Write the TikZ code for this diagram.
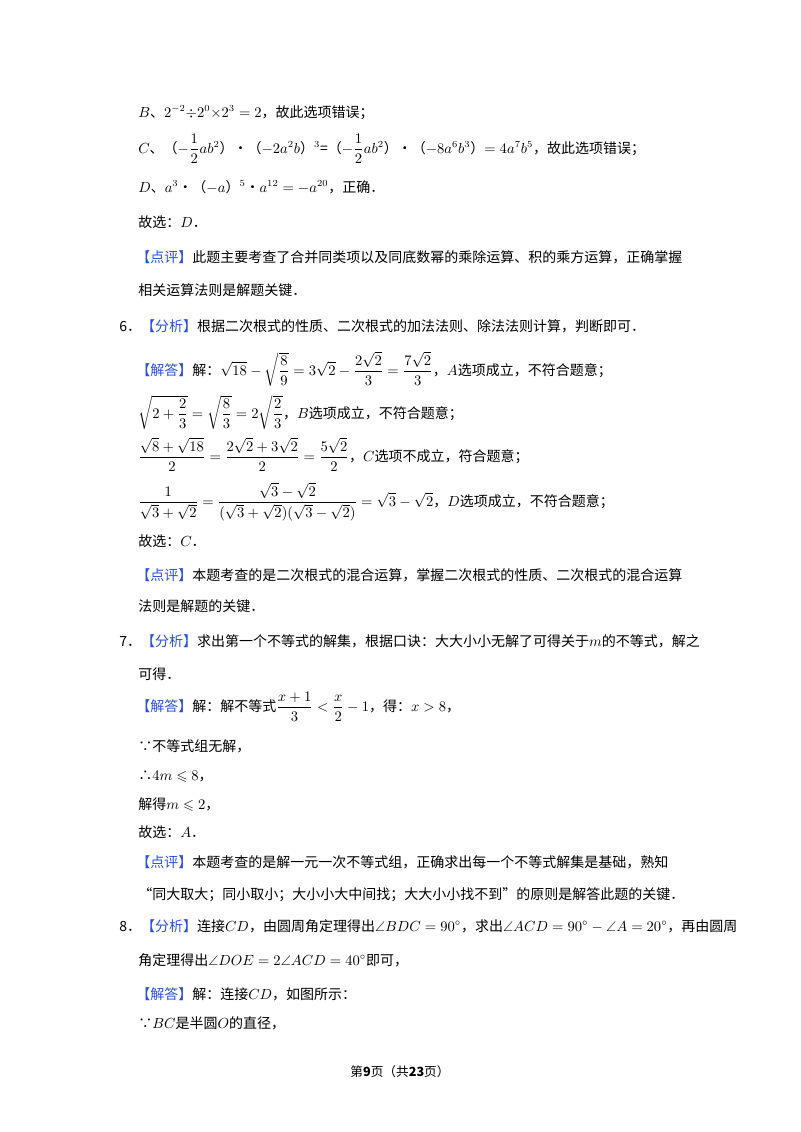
\documentclass[tikz,border=0pt]{standalone}
\usepackage{amsmath,amssymb}
\usepackage{fontspec}
\setmainfont{Noto Sans CJK SC}
\definecolor{lblue}{RGB}{40,80,230}
\newcommand{\lb}[1]{\textcolor{lblue}{【#1】}}
\begin{document}
\begin{tikzpicture}[x=0.75pt,y=-0.75pt,
  t/.style={anchor=base west,inner sep=0,font=\fontsize{10.5}{13}\selectfont}]
\useasboundingbox[fill=white] (0,0) rectangle (800,1132);
\node[t] (l1) at (138,117) {$B$、$2^{-2}{\div}2^{0}{\times}2^{3}=2$，故此选项错误；};
\node[t] (l2) at (138,153) {$C$、（$-\dfrac{1}{2}ab^2$）•（$-2a^2b$）$^3$=（$-\dfrac{1}{2}ab^2$）•（$-8a^6b^3$）$=4a^7b^5$，故此选项错误；};
\node[t] (l3) at (138,192) {$D$、$a^3$•（$-a$）$^5$•$a^{12}=-a^{20}$，正确．};
\node[t] (l4) at (138,227) {故选：$D$．};
\node[t] (l5) at (136,262) {\lb{点评}此题主要考查了合并同类项以及同底数幂的乘除运算、积的乘方运算，正确掌握};
\node[t] (l6) at (138,295) {相关运算法则是解题关键．};
\node[t] (l7) at (119,331) {6．\lb{分析}根据二次根式的性质、二次根式的加法法则、除法法则计算，判断即可．};
\node[t] (l8) at (136,375) {\lb{解答}解：$\sqrt{18}-\sqrt{\dfrac{8}{9}}=3\sqrt{2}-\dfrac{2\sqrt{2}}{3}=\dfrac{7\sqrt{2}}{3}$，$A$选项成立，不符合题意；};
\node[t] (l9) at (138,418) {$\sqrt{2+\dfrac{2}{3}}=\sqrt{\dfrac{8}{3}}=2\sqrt{\dfrac{2}{3}}$，$B$选项成立，不符合题意；};
\node[t] (l10) at (138,461) {$\dfrac{\sqrt{8}+\sqrt{18}}{2}=\dfrac{2\sqrt{2}+3\sqrt{2}}{2}=\dfrac{5\sqrt{2}}{2}$，$C$选项不成立，符合题意；};
\node[t] (l11) at (138,506) {$\dfrac{1}{\sqrt{3}+\sqrt{2}}=\dfrac{\sqrt{3}-\sqrt{2}}{(\sqrt{3}+\sqrt{2})(\sqrt{3}-\sqrt{2})}=\sqrt{3}-\sqrt{2}$，$D$选项成立，不符合题意；};
\node[t] (l12) at (138,546) {故选：$C$．};
\node[t] (l13) at (136,580) {\lb{点评}本题考查的是二次根式的混合运算，掌握二次根式的性质、二次根式的混合运算};
\node[t] (l14) at (138,611) {法则是解题的关键．};
\node[t] (l15) at (119,646) {7．\lb{分析}求出第一个不等式的解集，根据口诀：大大小小无解了可得关于$m$的不等式，解之};
\node[t] (l16) at (138,679) {可得．};
\node[t] (l17) at (136,711) {\lb{解答}解：解不等式$\dfrac{x+1}{3}<\dfrac{x}{2}-1$，得：$x>8$，};
\node[t] (l18) at (138,751) {∵不等式组无解，};
\node[t] (l19) at (138,780) {∴$4m\leqslant 8$，};
\node[t] (l20) at (138,809) {解得$m\leqslant 2$，};
\node[t] (l21) at (138,837) {故选：$A$．};
\node[t] (l22) at (136,867) {\lb{点评}本题考查的是解一元一次不等式组，正确求出每一个不等式解集是基础，熟知};
\node[t] (l23) at (138,899) {“同大取大；同小取小；大小小大中间找；大大小小找不到”的原则是解答此题的关键．};
\node[t] (l24) at (119,931) {8．\lb{分析}连接$CD$，由圆周角定理得出$\angle BDC=90^\circ$，求出$\angle ACD=90^\circ-\angle A=20^\circ$，再由圆周};
\node[t] (l25) at (138,965) {角定理得出$\angle DOE=2\angle ACD=40^\circ$即可，};
\node[t] (l26) at (136,999) {\lb{解答}解：连接$CD$，如图所示：};
\node[t] (l27) at (138,1028) {∵$BC$是半圆$O$的直径，};
\node[anchor=base,inner sep=0,font=\fontsize{9.5}{11}\selectfont] (ft) at (400,1076) {第\textbf{9}页（共\textbf{23}页）};
\end{tikzpicture}
\end{document}
